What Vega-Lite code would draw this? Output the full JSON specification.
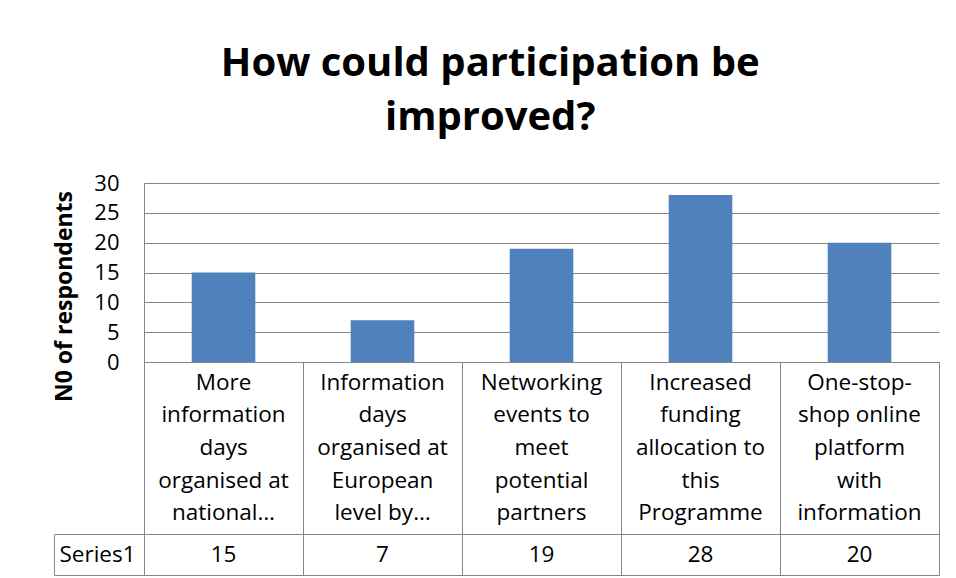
{
  "$schema": "https://vega.github.io/schema/vega-lite/v6.json",
  "padding": {"left": 52, "top": 44, "right": 10, "bottom": 0},
  "bounds": "flush",
  "data": {
    "values": [
      {"category": "More information days organised at national…", "label": "More\ninformation\ndays\norganised at\nnational…", "series": "Series1", "value": 15},
      {"category": "Information days organised at European level by…", "label": "Information\ndays\norganised at\nEuropean\nlevel by…", "series": "Series1", "value": 7},
      {"category": "Networking events to meet potential partners", "label": "Networking\nevents to\nmeet\npotential\npartners", "series": "Series1", "value": 19},
      {"category": "Increased funding allocation to this Programme", "label": "Increased\nfunding\nallocation to\nthis\nProgramme", "series": "Series1", "value": 28},
      {"category": "One-stop-shop online platform with information", "label": "One-stop-\nshop online\nplatform\nwith\ninformation", "series": "Series1", "value": 20}
    ]
  },
  "title": {
    "text": ["How could participation be", "improved?"],
    "font": "Open Sans",
    "fontSize": 40,
    "fontWeight": "bold",
    "lineHeight": 54,
    "color": "#000000",
    "anchor": "middle",
    "offset": 34,
    "dx": -6
  },
  "spacing": 0,
  "resolve": {"scale": {"x": "shared", "y": "independent"}},
  "vconcat": [
    {
      "width": 795,
      "height": 179,
      "view": {"stroke": null},
      "mark": {"type": "bar", "color": "#4F81BD", "width": {"band": 0.4}},
      "encoding": {
        "x": {"field": "category", "type": "nominal", "sort": null, "scale": {"paddingInner": 0, "paddingOuter": 0}, "axis": null},
        "y": {
          "field": "value", "type": "quantitative",
          "scale": {"domain": [0, 30], "nice": false},
          "axis": {
            "values": [0, 5, 10, 15, 20, 25, 30],
            "title": "N0 of respondents",
            "titleFont": "Open Sans", "titleFontSize": 23, "titleFontWeight": "bold", "titleColor": "#000000",
            "titleX": -80, "titleY": 113, "titleBaseline": "middle", "titleAngle": -90,
            "labelFont": "Open Sans", "labelFontSize": 22, "labelColor": "#000000", "labelPadding": 25,
            "ticks": false, "domainColor": "#868686", "gridColor": "#868686", "grid": true
          }
        }
      }
    },
    {
      "width": 795,
      "height": 172,
      "mark": {"type": "text", "lineBreak": "\n", "font": "Open Sans", "fontSize": 22.5, "lineHeight": 32.7, "color": "#000000", "baseline": "middle", "dy": -65.4},
      "encoding": {
        "x": {"field": "category", "type": "nominal", "sort": null, "scale": {"paddingInner": 0, "paddingOuter": 0},
          "axis": {"labels": false, "ticks": false, "domain": false, "title": null, "grid": true, "tickBand": "extent", "gridColor": "#868686", "gridOpacity": 1}},
        "text": {"field": "label"}
      }
    },
    {
      "width": 795,
      "height": 41,
      "mark": {"type": "text", "font": "Open Sans", "fontSize": 22.5, "color": "#000000", "baseline": "middle"},
      "encoding": {
        "x": {"field": "category", "type": "nominal", "sort": null, "scale": {"paddingInner": 0, "paddingOuter": 0},
          "axis": {"labels": false, "ticks": false, "domain": false, "title": null, "grid": true, "tickBand": "extent", "gridColor": "#868686", "gridOpacity": 1}},
        "y": {"field": "series", "type": "nominal", "scale": {"paddingInner": 0, "paddingOuter": 0},
          "axis": {"title": null, "offset": 90, "tickSize": -90, "tickBand": "extent", "tickColor": "#868686", "domainColor": "#868686",
            "labelAlign": "left", "labelPadding": 85, "labelFont": "Open Sans", "labelFontSize": 22.5, "labelColor": "#000000"}},
        "text": {"field": "value", "type": "quantitative"}
      }
    }
  ],
  "config": {
    "view": {"stroke": "#868686"},
    "background": "#ffffff"
  }
}
